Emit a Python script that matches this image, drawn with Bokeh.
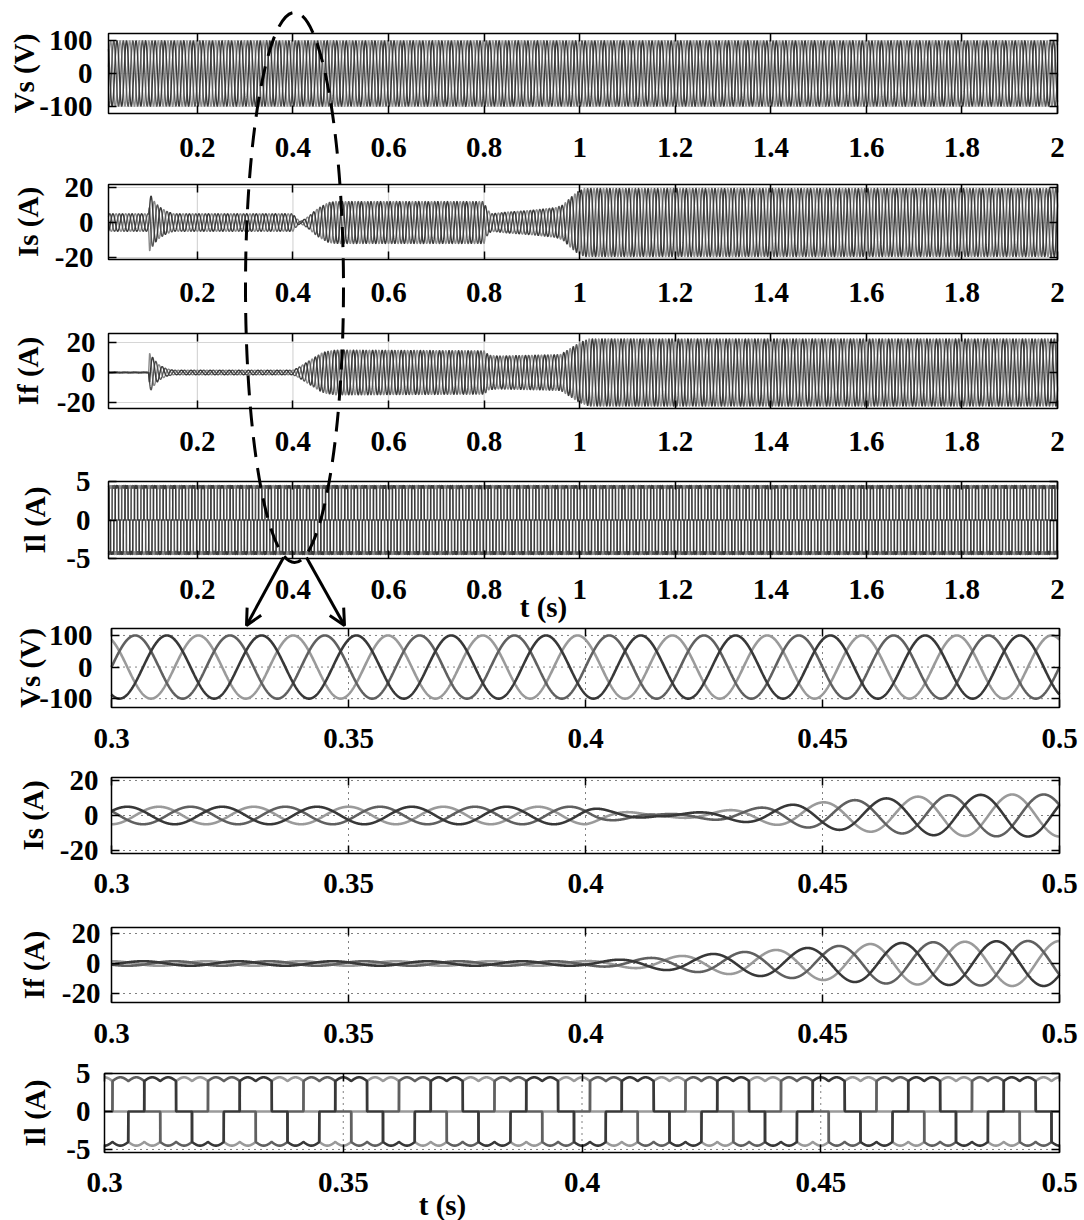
import numpy as np
from bokeh.plotting import figure
from bokeh.models import (Range1d, LinearAxis, FixedTicker, CustomJSTickFormatter,
                          Label, Arrow, OpenHead)
from bokeh.embed import file_html
from bokeh.resources import INLINE

# ---------------- values ----------------
grid_freq_hz = 50.0
vs_peak = 100.0
vs_phase_deg = [120.0, 0.0, -120.0]      # light, mid, dark phase
is_phase_deg = [-90.0, 150.0, 30.0]
if_phase_deg = [90.0, 210.0, -30.0]
il_phase_deg = [120.0, 0.0, -120.0]

# source-current peak envelope (s, A)
is_env_t = [0.014, 0.098, 0.100, 0.110, 0.120, 0.135, 0.150, 0.400, 0.405, 0.415,
            0.425, 0.435, 0.445, 0.455, 0.465, 0.475, 0.490, 0.800, 0.805, 0.815,
            0.850, 0.900, 0.950, 0.965, 0.980, 0.995, 1.010, 2.000]
is_env_a = [5.0, 5.0, 16.5, 12.0, 9.0, 6.5, 5.0, 5.0, 3.0, 0.5,
            2.0, 4.0, 6.5, 8.5, 10.0, 11.5, 12.0, 12.0, 8.0, 5.0,
            6.0, 7.0, 8.5, 10.0, 14.0, 17.5, 19.5, 19.5]

# filter-current peak envelope (s, A)
if_env_t = [0.014, 0.098, 0.100, 0.110, 0.120, 0.135, 0.150, 0.400, 0.410, 0.420,
            0.430, 0.440, 0.450, 0.460, 0.470, 0.490, 0.800, 0.810, 0.830, 0.900,
            0.960, 0.980, 1.000, 1.020, 2.000]
if_env_a = [0.3, 0.3, 13.0, 8.5, 5.0, 2.5, 1.5, 1.5, 3.0, 5.0,
            7.0, 9.0, 11.0, 13.0, 14.0, 15.0, 14.5, 11.5, 11.0, 11.5,
            12.0, 16.0, 20.0, 22.5, 22.5]

# six-step load current
il_level = 4.0
il_ripple = 0.5

overview_span = (0.014, 2.0)
zoom_span = (0.3, 0.5)

ov_xticks = [0.2, 0.4, 0.6, 0.8, 1, 1.2, 1.4, 1.6, 1.8, 2]
zm_xticks = [0.3, 0.35, 0.4, 0.45, 0.5]
vs_yticks = [-100, 0, 100]
is_yticks = [-20, 0, 20]
if_yticks = [-20, 0, 20]
il_yticks = [-5, 0, 5]
y_titles = ["Vs (V)", "Is (A)", "If (A)", "Il (A)"]
x_title = "t (s)"

# ---------------- styles ----------------
W, H = 1084, 1220
FONT = "'Liberation Serif', 'Times New Roman', serif"
FS = "29px"
phase_colors = ["#9a9a9a", "#606060", "#383838"]
ov_colors = ["#8a8a8a", "#555555", "#3a3a3a"]


def env(t, tt, aa):
    return np.interp(t, tt, aa)


def sines(t, amp, phases):
    w = 2 * np.pi * grid_freq_hz
    return [amp * np.sin(w * t + np.deg2rad(ph)) for ph in phases]


def six_step(t, phases):
    w = 2 * np.pi * grid_freq_hz
    out = []
    for ph in phases:
        th = w * t + np.deg2rad(ph)
        s = np.sin(th)
        step = np.where(s > 0.5, 1.0, np.where(s < -0.5, -1.0, 0.0))
        out.append(step * (il_level + il_ripple * np.abs(np.cos(3 * th))))
    return out


def series(t):
    return {
        "vs": sines(t, vs_peak, vs_phase_deg),
        "is": sines(t, env(t, is_env_t, is_env_a), is_phase_deg),
        "if": sines(t, env(t, if_env_t, if_env_a), if_phase_deg),
        "il": six_step(t, il_phase_deg),
    }


t_ov = np.linspace(overview_span[0], overview_span[1], 4000)
t_zm = np.linspace(zoom_span[0], zoom_span[1], 4001)
S_ov = series(t_ov)
S_zm = series(t_zm)


def xrange_for(c, d, L, R):
    k = (d - c) / (R - L)
    return Range1d(start=c - L * k, end=d + (W - R) * k)


def yrange_for(a, b, T, B):
    k = (b - a) / (B - T)
    return Range1d(start=a - (H - B) * k, end=b + T * k)


# panel layout: box in page pixels, y limits, label offsets
panels = [
    dict(key="vs", zoom=False, L=108, R=1057, T=33, B=113, ylim=(-122, 122), yt=vs_yticks, title=0, ls=16, als=-4, bs=24),
    dict(key="is", zoom=False, L=108, R=1057, T=184, B=259, ylim=(-21.1, 21.7), yt=is_yticks, title=1, ls=15, als=8, bs=23),
    dict(key="if", zoom=False, L=108, R=1057, T=333, B=408, ylim=(-24, 26), yt=if_yticks, title=2, ls=13, als=10, bs=23),
    dict(key="il", zoom=False, L=108, R=1057, T=481, B=558, ylim=(-5, 5), yt=il_yticks, title=3, ls=18, als=12, bs=21),
    dict(key="vs", zoom=True, L=111, R=1059, T=628, B=707, ylim=(-128, 122), yt=vs_yticks, title=0, ls=19, als=-10, bs=21),
    dict(key="is", zoom=True, L=111, R=1059, T=777, B=853, ylim=(-21.7, 21.7), yt=is_yticks, title=1, ls=13, als=8, bs=20),
    dict(key="if", zoom=True, L=111, R=1059, T=927, B=1002, ylim=(-26, 24), yt=if_yticks, title=2, ls=11, als=9, bs=21),
    dict(key="il", zoom=True, L=104, R=1059, T=1073, B=1152, ylim=(-5.4, 5.0), yt=il_yticks, title=3, ls=14, als=12, bs=20),
]

p = figure(width=W, height=H, x_range=Range1d(0, W), y_range=Range1d(H, 0),
           x_axis_type=None, y_axis_type=None, toolbar_location=None,
           output_backend="svg", min_border=0, outline_line_color=None)
p.background_fill_color = "white"

xr = {}
yr = {}
for i, pn in enumerate(panels):
    span = zoom_span if pn["zoom"] else overview_span
    xr[f"x{i}"] = xrange_for(span[0], span[1], pn["L"], pn["R"])
    yr[f"y{i}"] = yrange_for(pn["ylim"][0], pn["ylim"][1], pn["T"], pn["B"])
p.extra_x_ranges = xr
p.extra_y_ranges = yr

num_fmt = CustomJSTickFormatter(code="return String(tick);")
blank_fmt = CustomJSTickFormatter(code="return '';")


def style_axis(ax):
    ax.major_tick_in = 8
    ax.major_tick_out = 0
    ax.minor_tick_in = 0
    ax.minor_tick_out = 0
    ax.major_tick_line_color = "black"
    ax.major_tick_line_width = 1.5
    ax.axis_line_color = None
    ax.major_label_text_font = FONT
    ax.major_label_text_font_style = "bold"
    ax.major_label_text_font_size = FS
    ax.major_label_text_color = "black"
    ax.axis_label_text_font = FONT
    ax.axis_label_text_font_style = "bold"
    ax.axis_label_text_font_size = FS
    ax.axis_label_text_color = "black"


for i, pn in enumerate(panels):
    xn = f"x{i}"
    yn = f"y{i}"
    span = zoom_span if pn["zoom"] else overview_span
    x0, x1 = span
    y0, y1 = pn["ylim"]
    xt = zm_xticks if pn["zoom"] else ov_xticks
    yt = pn["yt"]
    data = (S_zm if pn["zoom"] else S_ov)[pn["key"]]
    t = t_zm if pn["zoom"] else t_ov

    # grid lines
    gx = [v for v in xt if x0 < v < x1]
    gy = [v for v in yt if y0 < v < y1]
    if pn["zoom"]:
        gstyle = dict(line_color="black", line_width=1, line_dash="1 5")
    else:
        gstyle = dict(line_color="#d6d6d6", line_width=1.2)
    p.segment(x0=gx, y0=[y0] * len(gx), x1=gx, y1=[y1] * len(gx),
              x_range_name=xn, y_range_name=yn, **gstyle)
    p.segment(x0=[x0] * len(gy), y0=gy, x1=[x1] * len(gy), y1=gy,
              x_range_name=xn, y_range_name=yn, **gstyle)

    # waveforms
    lw = 2.6 if pn["zoom"] else 1.4
    cols = phase_colors if pn["zoom"] else ov_colors
    for k in range(3):
        p.line(t, data[k], x_range_name=xn, y_range_name=yn,
               line_color=cols[k], line_width=lw)

    # box
    p.quad(left=[x0], right=[x1], bottom=[y0], top=[y1], x_range_name=xn, y_range_name=yn,
           fill_color=None, line_color="black", line_width=1.5)

    # axes
    ax_l = LinearAxis(x_range_name=xn, y_range_name=yn, fixed_location=x0,
                      ticker=FixedTicker(ticks=yt), formatter=num_fmt, bounds=(y0, y1),
                      axis_label=y_titles[pn["title"]])
    style_axis(ax_l)
    ax_l.major_label_standoff = pn["ls"]
    ax_l.axis_label_standoff = pn["als"]
    ax_l.major_label_orientation = "horizontal"
    p.add_layout(ax_l, "left")

    ax_b = LinearAxis(x_range_name=xn, y_range_name=yn, fixed_location=y0,
                      ticker=FixedTicker(ticks=xt), formatter=num_fmt, bounds=(x0, x1))
    style_axis(ax_b)
    ax_b.major_label_standoff = pn["bs"]
    p.add_layout(ax_b, "below")

    ax_t = LinearAxis(x_range_name=xn, y_range_name=yn, fixed_location=y1,
                      ticker=FixedTicker(ticks=xt), formatter=blank_fmt, bounds=(x0, x1))
    style_axis(ax_t)
    p.add_layout(ax_t, "above")

    ax_r = LinearAxis(x_range_name=xn, y_range_name=yn, fixed_location=x1,
                      ticker=FixedTicker(ticks=yt), formatter=blank_fmt, bounds=(y0, y1))
    style_axis(ax_r)
    p.add_layout(ax_r, "right")

# x titles
for (lx, ly) in [(543, 606), (442, 1204)]:
    p.add_layout(Label(x=lx, y=ly, text=x_title, text_align="center", text_baseline="middle",
                       text_font=FONT, text_font_style="bold", text_font_size=FS,
                       text_color="black"))

# zoom marker: dashed ellipse and two arrows
p.ellipse(x=[294], y=[287], width=[98], height=[550], fill_color=None,
          line_color="black", line_width=3, line_dash="20 11")
for (xs, ys, xe, ye) in [(283, 557, 246, 625), (306, 557, 344, 625)]:
    p.add_layout(Arrow(end=OpenHead(size=16, line_width=3, line_color="black"),
                       x_start=xs, y_start=ys, x_end=xe, y_end=ye,
                       line_width=3, line_color="black"))

open("out.html", "w").write(file_html(p, INLINE))
